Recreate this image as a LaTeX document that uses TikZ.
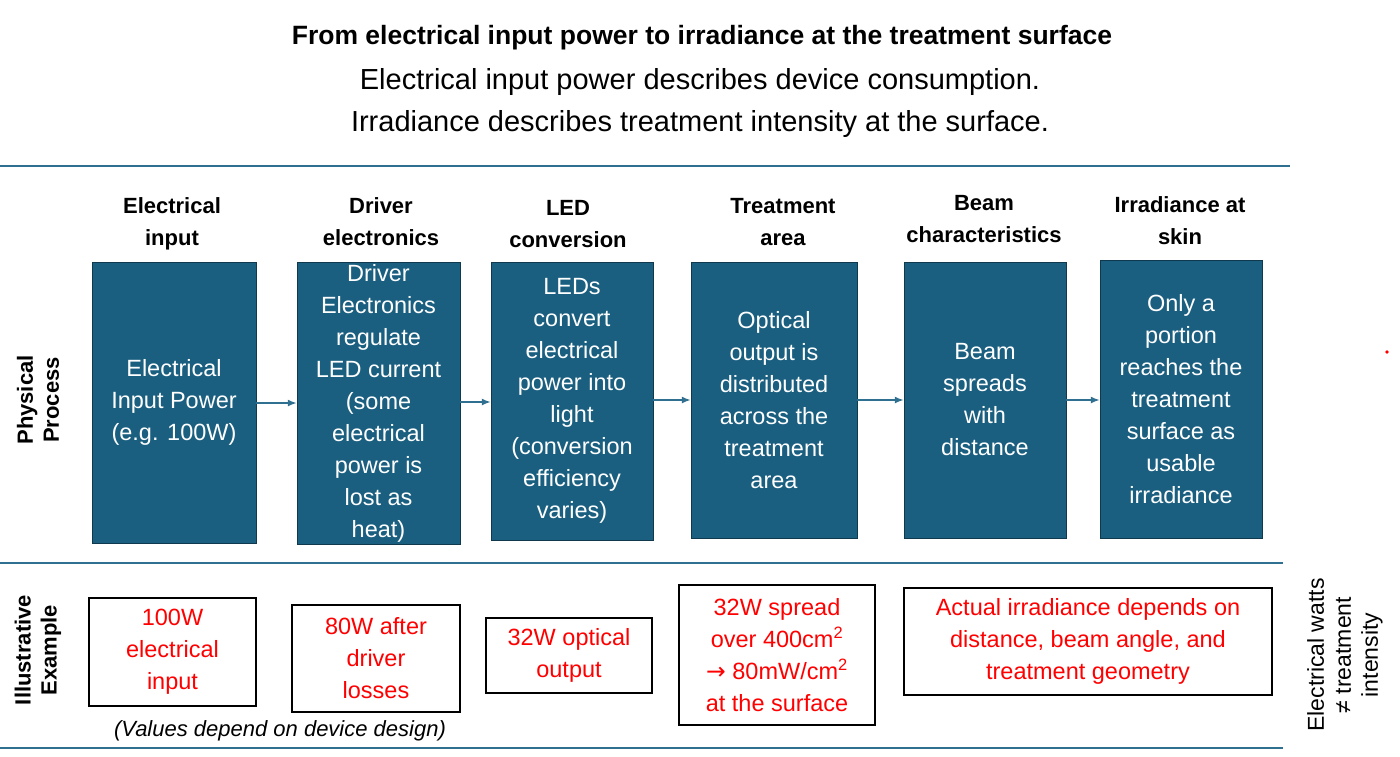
\documentclass[tikz,border=0pt]{standalone}
\usepackage{fontspec}
\usetikzlibrary{arrows.meta}
\setmainfont{Liberation Sans}
\newfontfamily\dvs{DejaVu Sans}
\definecolor{teal}{HTML}{1A5F80}
\definecolor{rule}{HTML}{2F6F8F}
\begin{document}
\begin{tikzpicture}[x=1pt,y=-1pt,
 proc/.style={draw=teal!60!black,fill=teal,text=white,align=center,font=\fontsize{23.5}{32}\selectfont,inner sep=0pt},
 hdr/.style={font=\bfseries\fontsize{22}{32}\selectfont,align=center},
 ex/.style={draw=black,line width=1.3pt,text=red,align=center,font=\fontsize{23.5}{32}\selectfont,inner sep=0pt},
 arr/.style={-{Latex[length=9pt,width=7pt]},draw=rule,line width=1.6pt},
 side/.style={font=\bfseries\fontsize{22}{26}\selectfont,align=center,rotate=90}]
\useasboundingbox (0,0) rectangle (1400,756);
\node[font=\bfseries\fontsize{26.5}{30}\selectfont] (t) at (702,38) {From electrical input power to irradiance at the treatment surface};
\node[font=\fontsize{29}{42}\selectfont,align=center] (st) at (700,103) {Electrical input power describes device consumption.\\Irradiance describes treatment intensity at the surface.};
\draw[rule,line width=1.3pt] (0,166) coordinate(l1a) -- (1290,166) coordinate(l1b);
\draw[rule,line width=1.3pt] (0,563) coordinate(l2a) -- (1283,563) coordinate(l2b);
\draw[rule,line width=1.3pt] (0,748) coordinate(l3a) -- (1283,748) coordinate(l3b);
\node[side] (pp) at (38,400) {Physical\\Process};
\node[side] (ie) at (38,650) {Illustrative\\Example};
\node[hdr] (h1) at (172,224) {Electrical\\input};
\node[hdr] (h2) at (381,222) {Driver\\electronics};
\node[hdr] (h3) at (568,224) {LED\\conversion};
\node[hdr] (h4) at (783,222) {Treatment\\area};
\node[hdr] (h5) at (984,219) {Beam\\characteristics};
\node[hdr] (h6) at (1180,221) {Irradiance at\\skin};
\node[proc,minimum width=164pt,minimum height=281pt] (b1) at (174,402.5) {Electrical\\Input Power\\(e.g. 100W)};
\node[proc,minimum width=163pt,minimum height=282pt] (b2) at (378.5,403) {Driver\\Electronics\\regulate\\LED current\\(some\\electrical\\power is\\lost as\\heat)};
\node[proc,minimum width=162pt,minimum height=278pt] (b3) at (572,401) {LEDs\\convert\\electrical\\power into\\light\\(conversion\\efficiency\\varies)};
\node[proc,minimum width=166pt,minimum height=276pt] (b4) at (774,400) {Optical\\output is\\distributed\\across the\\treatment\\area};
\node[proc,minimum width=162pt,minimum height=276pt] (b5) at (985,400) {Beam\\spreads\\with\\distance};
\node[proc,minimum width=162pt,minimum height=278pt] (b6) at (1181,399) {Only a\\portion\\reaches the\\treatment\\surface as\\usable\\irradiance};
\draw[arr] (b1.east |- 0,403) -- (b2.west |- 0,403);
\draw[arr] (b2.east |- 0,402) -- (b3.west |- 0,402);
\draw[arr] (b3.east |- 0,400) -- (b4.west |- 0,400);
\draw[arr] (b4.east |- 0,400) -- (b5.west |- 0,400);
\draw[arr] (b5.east |- 0,400) -- (b6.west |- 0,400);
\node[ex,minimum width=167pt,minimum height=108pt] (e1) at (172.5,652) {100W\\electrical\\input};
\node[ex,minimum width=168pt,minimum height=107pt] (e2) at (376,658.5) {80W after\\driver\\losses};
\node[ex,minimum width=166pt,minimum height=75pt] (e3) at (569,655.5) {32W optical\\output};
\node[ex,minimum width=196pt,minimum height=140pt] (e4) at (777,655) {32W spread\\over 400cm\textsuperscript{2}\\{\dvs →} 80mW/cm\textsuperscript{2}\\at the surface};
\node[ex,minimum width=368pt,minimum height=107pt] (e5) at (1088,641.5) {Actual irradiance depends on\\distance, beam angle, and\\treatment geometry};
\node[font=\itshape\fontsize{22}{26}\selectfont] (note) at (280,731) {(Values depend on device design)};
\node[font=\fontsize{23}{27}\selectfont,align=center,rotate=90] (side2) at (1345,655) {Electrical watts\\≠ treatment\\intensity};
\fill[red] (1387,352) circle (1.8pt);
\end{tikzpicture}
\end{document}
